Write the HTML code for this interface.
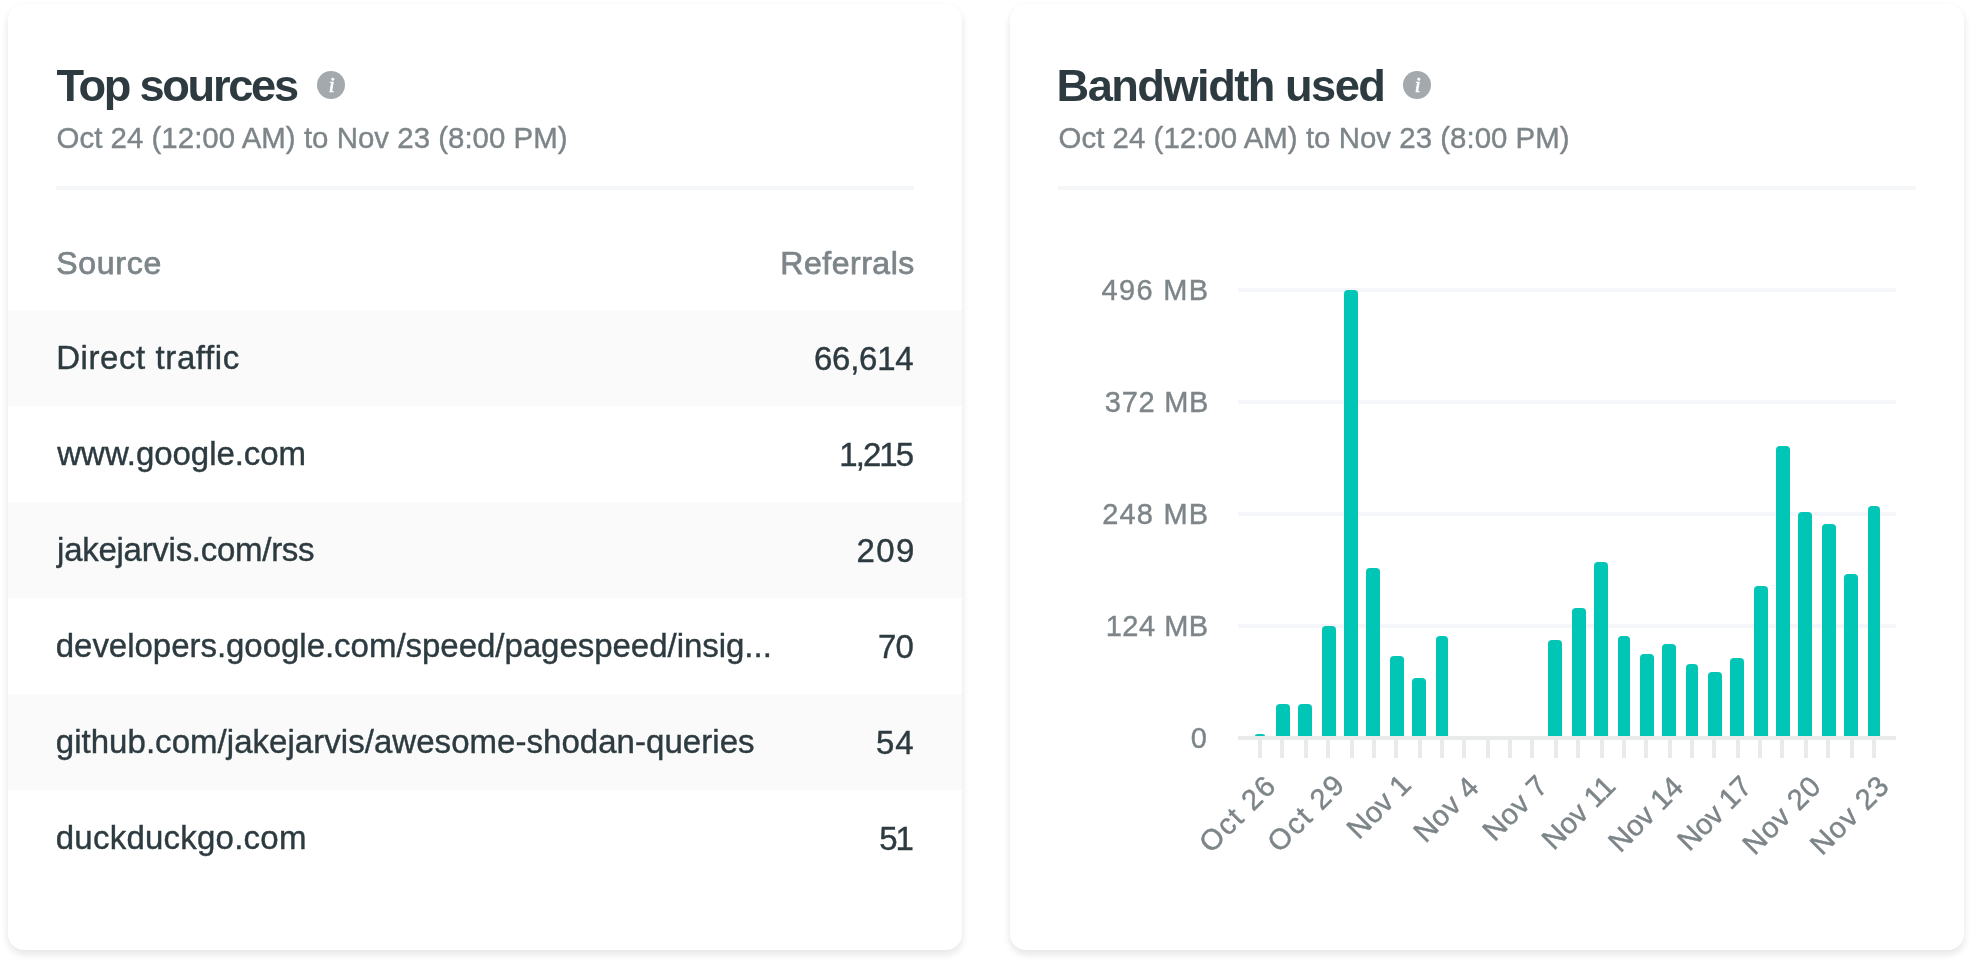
<!DOCTYPE html>
<html lang="en">
<head>
<meta charset="utf-8">
<title>Analytics</title>
<style>
*{box-sizing:border-box}
html,body{margin:0;padding:0}
body{width:1972px;height:962px;background:#fff;position:relative;overflow:hidden;font-family:"Liberation Sans", sans-serif;color:#2d3b41;-webkit-font-smoothing:antialiased}
#wrap{position:absolute;left:0;top:0;width:1972px;height:962px;will-change:opacity;opacity:.999}
.card{position:absolute;top:4px;width:954px;height:946px;background:#fff;border-radius:16px;box-shadow:0 4px 8px 0 rgba(14,30,37,.12)}
#sources{left:8px}
#bandwidth{left:1010px}
.t{position:absolute;white-space:nowrap;line-height:1;margin:0;padding:0;font-weight:400;-webkit-text-stroke:.4px currentColor}
h2.t{top:59px;font-size:45.2px;font-weight:700;-webkit-text-stroke:0}
p.t{top:119px;font-size:29.4px;color:#7d8589}
.ic{position:absolute;top:67px;width:28px;height:28px}
.hr{position:absolute;left:48px;top:182px;height:4px;width:858px;background:#f4f6f7}
.thead,.row{position:absolute;left:0;width:954px;height:96px;font-size:32px}
.row{font-size:33px}
.thead{top:210px;color:#7d8589}
.row.odd{background:#fafafa}
.thead .t{top:33px;-webkit-text-stroke-width:.75px}

.ylab{font-size:29px;color:#7d8589}
#chart{position:absolute;left:0;top:0}
</style>
</head>
<body>
<main id="wrap">
<section class="card" id="sources">
<h2 class="t" style="left:48.5px;letter-spacing:-2.28px">Top sources</h2>
<svg class="ic" style="left:309px" viewBox="0 0 28 28" width="28" height="28" role="img" aria-label="info"><circle cx="14" cy="14" r="14" fill="#a3a9ac"/><text x="14.6" y="21.2" text-anchor="middle" font-family="'Liberation Serif', serif" font-style="italic" font-size="21" fill="#fff" stroke="#fff" stroke-width=".7">i</text></svg>
<p class="t" style="left:48.55px;letter-spacing:0.037px">Oct 24 (12:00 AM) to Nov 23 (8:00 PM)</p>
<div class="hr"></div>
<div class="thead">
<span class="t" style="left:48.2px;letter-spacing:0.73px">Source</span><span class="t" style="left:772.35px;letter-spacing:0.519px">Referrals</span>
</div>
<div class="row odd" style="top:306px"><span class="t" style="left:48.2px;top:31px;letter-spacing:0.581px">Direct traffic</span><span class="t" style="left:806.0px;top:32px;letter-spacing:-0.25px">66,614</span></div>
<div class="row" style="top:402px"><span class="t" style="left:49.35px;top:31px;letter-spacing:-0.058px">www.google.com</span><span class="t" style="left:831.25px;top:32px;letter-spacing:-1.938px">1,215</span></div>
<div class="row odd" style="top:498px"><span class="t" style="left:49.1px;top:31px;letter-spacing:-0.279px">jakejarvis.com/rss</span><span class="t" style="left:848.5px;top:32px;letter-spacing:1.375px">209</span></div>
<div class="row" style="top:594px"><span class="t" style="left:47.75px;top:31px;letter-spacing:-0.028px">developers.google.com/speed/pagespeed/insig...</span><span class="t" style="left:870.0px;top:32px;letter-spacing:-0.75px">70</span></div>
<div class="row odd" style="top:690px"><span class="t" style="left:47.75px;top:31px;letter-spacing:0.041px">github.com/jakejarvis/awesome-shodan-queries</span><span class="t" style="left:868.0px;top:32px;letter-spacing:1.0px">54</span></div>
<div class="row" style="top:786px"><span class="t" style="left:47.75px;top:31px;letter-spacing:0.231px">duckduckgo.com</span><span class="t" style="left:871.25px;top:32px;letter-spacing:-2px">51</span></div>
</section>
<section class="card" id="bandwidth">
<h2 class="t" style="left:46.5px;letter-spacing:-1.5px">Bandwidth used</h2>
<svg class="ic" style="left:393px" viewBox="0 0 28 28" width="28" height="28" role="img" aria-label="info"><circle cx="14" cy="14" r="14" fill="#a3a9ac"/><text x="14.6" y="21.2" text-anchor="middle" font-family="'Liberation Serif', serif" font-style="italic" font-size="21" fill="#fff" stroke="#fff" stroke-width=".7">i</text></svg>
<p class="t" style="left:48.55px;letter-spacing:0.038px">Oct 24 (12:00 AM) to Nov 23 (8:00 PM)</p>
<div class="hr"></div>
<span class="t ylab" style="left:91.4px;top:272px;letter-spacing:1.37px">496 MB</span>
<span class="t ylab" style="left:94.8px;top:384px;letter-spacing:0.73px">372 MB</span>
<span class="t ylab" style="left:92.15px;top:496px;letter-spacing:1.2px">248 MB</span>
<span class="t ylab" style="left:95.7px;top:608px;letter-spacing:0.51px">124 MB</span>
<span class="t ylab" style="left:180.78px;top:720px;letter-spacing:0px">0</span>
<svg id="chart" width="954" height="946" viewBox="1010 4 954 946">
<g fill="#f5f6f9">
<rect x="1238" y="288" width="658" height="4"/>
<rect x="1238" y="400" width="658" height="4"/>
<rect x="1238" y="512" width="658" height="4"/>
<rect x="1238" y="624" width="658" height="4"/>
</g>
<g fill="#00c6b6">
<path d="M1255 736 Q1255 734 1258 734 H1262 Q1265 734 1265 736 Z"/>
<path d="M1276 736 V708 Q1276 704 1280 704 H1286 Q1290 704 1290 708 V736 Z"/>
<path d="M1298 736 V708 Q1298 704 1302 704 H1308 Q1312 704 1312 708 V736 Z"/>
<path d="M1322 736 V630 Q1322 626 1326 626 H1332 Q1336 626 1336 630 V736 Z"/>
<path d="M1344 736 V294 Q1344 290 1348 290 H1354 Q1358 290 1358 294 V736 Z"/>
<path d="M1366 736 V572 Q1366 568 1370 568 H1376 Q1380 568 1380 572 V736 Z"/>
<path d="M1390 736 V660 Q1390 656 1394 656 H1400 Q1404 656 1404 660 V736 Z"/>
<path d="M1412 736 V682 Q1412 678 1416 678 H1422 Q1426 678 1426 682 V736 Z"/>
<path d="M1436 736 V640 Q1436 636 1440 636 H1444 Q1448 636 1448 640 V736 Z"/>
<path d="M1548 736 V644 Q1548 640 1552 640 H1558 Q1562 640 1562 644 V736 Z"/>
<path d="M1572 736 V612 Q1572 608 1576 608 H1582 Q1586 608 1586 612 V736 Z"/>
<path d="M1594 736 V566 Q1594 562 1598 562 H1604 Q1608 562 1608 566 V736 Z"/>
<path d="M1618 736 V640 Q1618 636 1622 636 H1626 Q1630 636 1630 640 V736 Z"/>
<path d="M1640 736 V658 Q1640 654 1644 654 H1650 Q1654 654 1654 658 V736 Z"/>
<path d="M1662 736 V648 Q1662 644 1666 644 H1672 Q1676 644 1676 648 V736 Z"/>
<path d="M1686 736 V668 Q1686 664 1690 664 H1694 Q1698 664 1698 668 V736 Z"/>
<path d="M1708 736 V676 Q1708 672 1712 672 H1718 Q1722 672 1722 676 V736 Z"/>
<path d="M1730 736 V662 Q1730 658 1734 658 H1740 Q1744 658 1744 662 V736 Z"/>
<path d="M1754 736 V590 Q1754 586 1758 586 H1764 Q1768 586 1768 590 V736 Z"/>
<path d="M1776 736 V450 Q1776 446 1780 446 H1786 Q1790 446 1790 450 V736 Z"/>
<path d="M1798 736 V516 Q1798 512 1802 512 H1808 Q1812 512 1812 516 V736 Z"/>
<path d="M1822 736 V528 Q1822 524 1826 524 H1832 Q1836 524 1836 528 V736 Z"/>
<path d="M1844 736 V578 Q1844 574 1848 574 H1854 Q1858 574 1858 578 V736 Z"/>
<path d="M1868 736 V510 Q1868 506 1872 506 H1876 Q1880 506 1880 510 V736 Z"/>
</g>
<g fill="#e9ebeb">
<rect x="1238" y="736" width="658" height="4"/>
<rect x="1258" y="740" width="4" height="18"/>
<rect x="1280" y="740" width="4" height="18"/>
<rect x="1304" y="740" width="4" height="18"/>
<rect x="1326" y="740" width="4" height="18"/>
<rect x="1350" y="740" width="4" height="18"/>
<rect x="1372" y="740" width="4" height="18"/>
<rect x="1394" y="740" width="4" height="18"/>
<rect x="1418" y="740" width="4" height="18"/>
<rect x="1440" y="740" width="4" height="18"/>
<rect x="1462" y="740" width="4" height="18"/>
<rect x="1486" y="740" width="4" height="18"/>
<rect x="1508" y="740" width="4" height="18"/>
<rect x="1530" y="740" width="4" height="18"/>
<rect x="1554" y="740" width="4" height="18"/>
<rect x="1576" y="740" width="4" height="18"/>
<rect x="1600" y="740" width="4" height="18"/>
<rect x="1622" y="740" width="4" height="18"/>
<rect x="1644" y="740" width="4" height="18"/>
<rect x="1668" y="740" width="4" height="18"/>
<rect x="1690" y="740" width="4" height="18"/>
<rect x="1712" y="740" width="4" height="18"/>
<rect x="1736" y="740" width="4" height="18"/>
<rect x="1758" y="740" width="4" height="18"/>
<rect x="1780" y="740" width="4" height="18"/>
<rect x="1804" y="740" width="4" height="18"/>
<rect x="1826" y="740" width="4" height="18"/>
<rect x="1850" y="740" width="4" height="18"/>
<rect x="1872" y="740" width="4" height="18"/>
</g>
<g font-family="'Liberation Sans', sans-serif" font-size="29" fill="#7d8589" text-anchor="end" stroke="#7d8589" stroke-width="0.45">
<text transform="translate(1278.3 786.8) rotate(-45)" letter-spacing="1.65">Oct 26</text>
<text transform="translate(1347.2 785.8) rotate(-45)" letter-spacing="1.8">Oct 29</text>
<text transform="translate(1412.6 786.6) rotate(-45)" letter-spacing="0.07">Nov 1</text>
<text transform="translate(1480.8 788.7) rotate(-45)" letter-spacing="0.5">Nov 4</text>
<text transform="translate(1549.6 787.4) rotate(-45)" letter-spacing="0.44">Nov 7</text>
<text transform="translate(1617.1 787.8) rotate(-45)" letter-spacing="0.0">Nov 11</text>
<text transform="translate(1685.0 788.8) rotate(-45)" letter-spacing="-0.03">Nov 14</text>
<text transform="translate(1753.2 788.4) rotate(-45)" letter-spacing="-0.27">Nov 17</text>
<text transform="translate(1823.0 787.8) rotate(-45)" letter-spacing="0.82">Nov 20</text>
<text transform="translate(1891.0 787.5) rotate(-45)" letter-spacing="0.92">Nov 23</text>
</g>
</svg>
</section>
</main>
</body>
</html>
